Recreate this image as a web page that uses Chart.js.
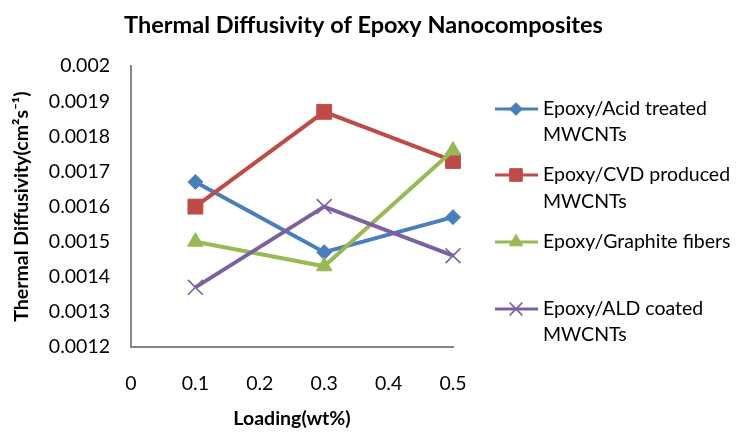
<!DOCTYPE html>
<html>
<head>
<meta charset="utf-8">
<script src="https://cdn.jsdelivr.net/npm/chart.js@4"></script>
<style>
  html, body { margin: 0; padding: 0; background: #ffffff; }
  #wrap { width: 738px; height: 436px; }
</style>
</head>
<body>
<div id="wrap"><canvas id="chart" width="738" height="436"></canvas></div>
<script>
// --- data ---
const loadings = [0.1, 0.3, 0.5];
const seriesNames = [
    ['Epoxy/Acid treated', 'MWCNTs'],
    ['Epoxy/CVD produced', 'MWCNTs'],
    ['Epoxy/Graphite fibers'],
    ['Epoxy/ALD coated', 'MWCNTs']
];
const acidTreated = [0.00167, 0.00147, 0.00157];
const cvdProduced = [0.00160, 0.00187, 0.00173];
const graphiteFibers = [0.00150, 0.00143, 0.00176];
const aldCoated = [0.00137, 0.00160, 0.00146];
const xTickLabels = ['0', '0.1', '0.2', '0.3', '0.4', '0.5'];
const yTickLabels = ['0.0012', '0.0013', '0.0014', '0.0015', '0.0016', '0.0017', '0.0018', '0.0019', '0.002'];

const FONT = 'Lato, "Liberation Sans", sans-serif';
const colors = ['#4a7ebb', '#be4b48', '#98b954', '#7d60a0'];
const pointStyles = ['rectRot', 'rect', 'triangle', 'crossRot'];
const pointRadii = [7.5, 10.5, 9, 10.5];
const pointBorders = [1, 1, 1, 1.6];

function toPoints(values) {
    return values.map((v, i) => ({ x: loadings[i], y: v }));
}

const allSeries = [acidTreated, cvdProduced, graphiteFibers, aldCoated];

const datasets = allSeries.map((vals, i) => ({
    label: seriesNames[i].join(' '),
    data: toPoints(vals),
    borderColor: colors[i],
    backgroundColor: colors[i],
    borderWidth: 4,
    pointStyle: pointStyles[i],
    pointRadius: pointRadii[i],
    pointBorderWidth: pointBorders[i],
    pointBorderColor: colors[i],
    pointBackgroundColor: colors[i],
    tension: 0,
    clip: false,
    order: allSeries.length - i // later series on top, like Excel
}));

// --- legend drawn by hand so labels can wrap like the original ---
const sideLegend = {
    id: 'sideLegend',
    afterDraw(chart) {
        const ctx = chart.ctx;
        const rows = [[109, 135], [175, 202], [242], [309, 335]];
        ctx.save();
        chart.data.datasets.forEach((ds, i) => {
            const y = rows[i][0];
            ctx.strokeStyle = ds.borderColor;
            ctx.lineWidth = 3;
            ctx.beginPath();
            ctx.moveTo(495, y);
            ctx.lineTo(538, y);
            ctx.stroke();
            ctx.fillStyle = ds.borderColor;
            ctx.lineWidth = ds.pointBorderWidth;
            Chart.helpers.drawPoint(ctx, {
                pointStyle: ds.pointStyle,
                radius: ds.pointRadius * 0.85,
                borderWidth: ds.pointBorderWidth
            }, 516, y);
            ctx.fillStyle = '#000000';
            ctx.font = '19.5px ' + FONT;
            ctx.textBaseline = 'middle';
            ctx.textAlign = 'left';
            seriesNames[i].forEach((line, j) => {
                ctx.fillText(line, 543, rows[i][j]);
            });
        });
        ctx.restore();
    }
};

new Chart(document.getElementById('chart'), {
    type: 'line',
    data: { datasets: datasets },
    options: {
        responsive: false,
        animation: false,
        layout: { padding: { left: 0, right: 11, top: 0, bottom: 0 } },
        plugins: {
            legend: { display: false },
            tooltip: { enabled: false },
            title: {
                display: true,
                text: 'Thermal Diffusivity of Epoxy Nanocomposites',
                color: '#000000',
                font: { family: FONT, size: 23.5, weight: 'bold' },
                padding: { top: 11, bottom: 27 }
            }
        },
        scales: {
            x: {
                type: 'linear',
                min: 0,
                max: 0.5,
                grid: { display: false, drawTicks: false },
                border: { display: true, color: '#868686', width: 2 },
                ticks: {
                    stepSize: 0.1,
                    color: '#000000',
                    padding: 25,
                    font: { family: FONT, size: 19.5 },
                    callback: (v, i) => xTickLabels[i]
                },
                title: {
                    display: true,
                    text: 'Loading(wt%)',
                    color: '#000000',
                    font: { family: FONT, size: 19.5, weight: 'bold' },
                    padding: { top: 10, bottom: 6 }
                },
                afterFit: (scale) => { scale.height = 89; }
            },
            y: {
                min: 0.0012,
                max: 0.002,
                grid: { display: false, drawTicks: false },
                border: { display: true, color: '#868686', width: 2 },
                ticks: {
                    stepSize: 0.0001,
                    color: '#000000',
                    padding: 21,
                    font: { family: FONT, size: 19.5 },
                    callback: (v, i) => yTickLabels[i]
                },
                title: {
                    display: true,
                    text: 'Thermal Diffusivity(cm²s⁻¹)',
                    color: '#000000',
                    font: { family: FONT, size: 19.5, weight: 'bold' },
                    padding: { top: 10 }
                },
                afterFit: (scale) => { scale.width = 131; }
            },
            // empty right-hand box that keeps room for the legend
            legendSpace: {
                type: 'linear',
                position: 'right',
                grid: { display: false, drawTicks: false },
                border: { display: false },
                ticks: { display: false },
                afterFit: (scale) => { scale.width = 274; }
            }
        }
    },
    plugins: [sideLegend]
});
</script>
</body>
</html>
